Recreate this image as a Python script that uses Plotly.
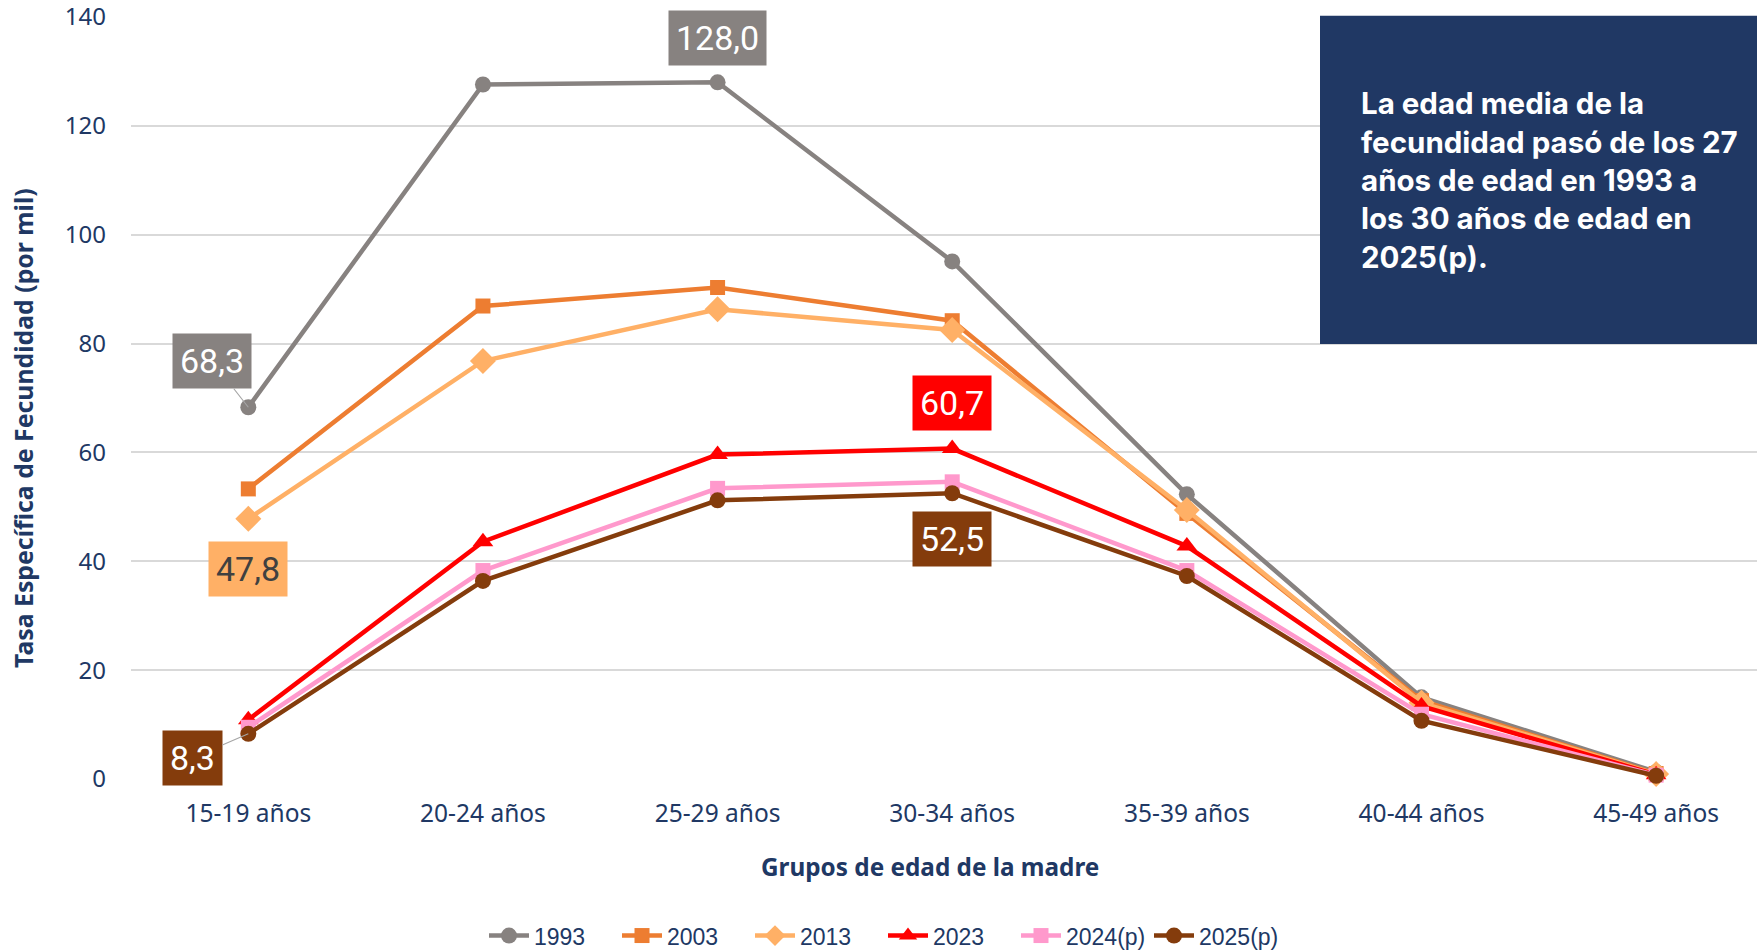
import plotly.graph_objects as go

categories = ["15-19 años", "20-24 años", "25-29 años", "30-34 años", "35-39 años", "40-44 años", "45-49 años"]
y1993 = [68.3, 127.6, 128.0, 95.1, 52.3, 15.0, 1.3]
y2003 = [53.3, 86.9, 90.3, 84.2, 48.8, 14.4, 1.0]
y2013 = [47.8, 76.8, 86.3, 82.5, 49.4, 14.0, 0.9]
y2023 = [10.9, 43.6, 59.6, 60.7, 42.8, 13.4, 0.8]
y2024 = [9.5, 38.3, 53.4, 54.6, 38.3, 11.9, 0.7]
y2025 = [8.3, 36.4, 51.2, 52.5, 37.3, 10.7, 0.6]

series = [
    ("1993", y1993, "#878280", "circle", 16),
    ("2003", y2003, "#ED7D31", "square", 15),
    ("2013", y2013, "#FFB066", "diamond", 20),
    ("2023", y2023, "#FF0000", "triangle-up", 18),
    ("2024(p)", y2024, "#FF99CC", "square", 15),
    ("2025(p)", y2025, "#843C0C", "circle", 16),
]

NAVY = "#203864"
L, T, B, R = 131, 17, 171, 0
W, H = 1757, 950
PH = H - T - B
PW = W - L - R
PBOT = H - B

def py(yfig):
    return (PBOT - yfig) / PH

def px(xfig):
    return (xfig - L) / PW

fig = go.Figure()
for name, ys, col, sym, sz in series:
    fig.add_trace(go.Scatter(
        x=categories, y=ys, name=name, mode="lines+markers",
        line=dict(color=col, width=4.5),
        marker=dict(symbol=sym, size=sz, color=col),
        cliponaxis=False,
    ))

LBL = dict(family="Roboto", size=34)

def label(xi, yv, txt, bg, fg, xs, ys, ax=None, ay=None):
    if ax is None:
        fig.add_annotation(x=categories[xi], y=yv, xref="x", yref="y", text=txt,
                           showarrow=False, xshift=xs, yshift=ys, bgcolor=bg,
                           font=dict(color=fg, **LBL), borderpad=7)
    else:
        fig.add_annotation(x=categories[xi], y=yv, xref="x", yref="y", text=txt,
                           showarrow=True, arrowhead=0, arrowwidth=1.2, arrowcolor="#A6A6A6",
                           ax=ax, ay=ay, bgcolor=bg,
                           font=dict(color=fg, **LBL), borderpad=7,
                           standoff=0)

label(0, y1993[0], "68,3", "#878280", "white", 0, 0, ax=-36, ay=-46)
label(2, y1993[2], "128,0", "#878280", "white", 0, 44)
label(0, y2013[0], "47,8", "#FFB066", "#404040", 0, -50)
label(3, y2023[3], "60,7", "#FF0000", "white", 0, 46)
label(3, y2025[3], "52,5", "#843C0C", "white", 0, -46)
label(0, y2025[0], "8,3", "#843C0C", "white", 0, 0, ax=-56, ay=24)

# Text box
fig.add_shape(type="rect", xref="paper", yref="paper", x0=px(1320), x1=1.02, y0=py(344), y1=py(15.7),
              fillcolor="#203864", line=dict(width=0), layer="above")
lines = ["La edad media de la", "fecundidad pasó de los 27", "años de edad en 1993 a",
         "los 30 años de edad en", "2025(p)."]
for i, t in enumerate(lines):
    ypx = 103.1 + i * 38.4
    fig.add_annotation(xref="paper", yref="paper", x=px(1359), y=py(ypx),
                       xanchor="left", yanchor="middle", text="<b>" + t + "</b>", showarrow=False,
                       font=dict(family="Inter", size=29.5, color="white"), align="left")

# Axis titles
fig.add_annotation(xref="paper", yref="paper", x=px(22.4), y=py(427.5), textangle=-90,
                   xanchor="center", yanchor="middle", showarrow=False,
                   text="<b>Tasa Específica de Fecundidad (por mil)</b>",
                   font=dict(family="Noto Sans", size=24.8, color=NAVY))
fig.add_annotation(xref="paper", yref="paper", x=px(929.5), y=py(866.2),
                   xanchor="center", yanchor="middle", showarrow=False,
                   text="<b>Grupos de edad de la madre</b>",
                   font=dict(family="Noto Sans", size=24.3, color=NAVY))

fig.update_layout(
    width=W, height=H,
    margin=dict(l=L, r=R, t=T, b=B, autoexpand=False),
    plot_bgcolor="white", paper_bgcolor="white",
    showlegend=True,
    legend=dict(orientation="h", x=px(883), xanchor="center", y=py(935.6), yanchor="middle",
                font=dict(family="Liberation Sans", size=23, color=NAVY), itemwidth=40,
                entrywidth=78, tracegroupgap=0),
    xaxis=dict(range=[-0.5, 6.43], showgrid=False, showline=False, ticks="",
               ticklabelstandoff=17, automargin=False,
               tickfont=dict(family="Noto Sans", size=24.5, color=NAVY)),
    yaxis=dict(range=[0, 140], dtick=20, showgrid=True, gridcolor="#D9D9D9", gridwidth=1.5,
               zeroline=False, showline=False, ticks="", ticklabelstandoff=24,
               ticklabeloverflow="allow", automargin=False,
               tickfont=dict(family="Noto Sans", size=24, color=NAVY)),
)

fig.write_html("out.html", config={"displayModeBar": False},
               post_script="document.body.style.margin='0px';document.body.style.overflow='hidden';")
